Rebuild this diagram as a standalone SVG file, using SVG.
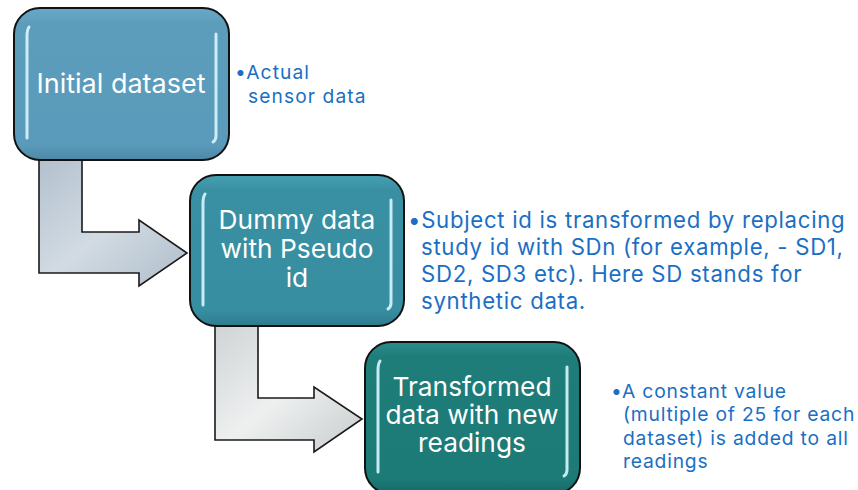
<svg xmlns="http://www.w3.org/2000/svg" width="858" height="490" viewBox="0 0 858 490">
<defs>
<linearGradient id="g1" x1="0" y1="0" x2="0" y2="1"><stop offset="0" stop-color="#6aa8c6"/><stop offset="0.1" stop-color="#5d9dbc"/><stop offset="0.9" stop-color="#5a9aba"/><stop offset="1" stop-color="#4d88a6"/></linearGradient>
<linearGradient id="g2" x1="0" y1="0" x2="0" y2="1"><stop offset="0" stop-color="#46a0b2"/><stop offset="0.1" stop-color="#3990a3"/><stop offset="0.9" stop-color="#378ea1"/><stop offset="1" stop-color="#2c7b8d"/></linearGradient>
<linearGradient id="g3" x1="0" y1="0" x2="0" y2="1"><stop offset="0" stop-color="#2a8d8a"/><stop offset="0.1" stop-color="#1e7c79"/><stop offset="0.9" stop-color="#1c7a77"/><stop offset="1" stop-color="#156966"/></linearGradient>
<linearGradient id="a1" x1="0" y1="0" x2="1" y2="1"><stop offset="0" stop-color="#b2c0cd"/><stop offset="0.5" stop-color="#d2dbe3"/><stop offset="1" stop-color="#aebdca"/></linearGradient>
<linearGradient id="a2" x1="0" y1="0" x2="1" y2="1"><stop offset="0" stop-color="#cfd3d5"/><stop offset="0.5" stop-color="#eef0f0"/><stop offset="1" stop-color="#c8cccd"/></linearGradient>
</defs>
<style>
.box{stroke:#111;stroke-width:2}
.hl{stroke:#d8f6ff;stroke-width:3;stroke-linecap:round;fill:none;opacity:0.9}
.arr{stroke:#1a1a1a;stroke-width:1.6;stroke-linejoin:miter}
.bt{font-family:Inter,"Noto Sans",sans-serif;fill:#ffffff;text-anchor:middle}
.nt{font-family:Inter,"Noto Sans",sans-serif;fill:#1a6fc4}
</style>
<g id="connectors">
<polygon class="arr" fill="url(#a1)" points="39,158 39,273 139,273 139,286 187,253 139,220 139,232 82,232 82,158"/>
<polygon class="arr" fill="url(#a2)" points="215,324 215,440 314,440 314,452 362,419 314,387 314,398 258,398 258,324"/>
</g>
<g id="node1">
<rect class="box" x="14" y="8" width="215" height="152" rx="26" fill="url(#g1)"/>
<path class="hl" d="M29,27 Q27,30 27,36 L27,138"/>
<path class="hl" d="M216,34 L216,136 Q216,140 213,142"/>
<text class="bt" x="121" y="93" font-size="27">Initial dataset</text>
</g>
<g id="note1">
<text class="nt" font-size="19.2" letter-spacing="1.1"><tspan x="235" y="79">•Actual</tspan><tspan x="248" y="102.5">sensor data</tspan></text>
</g>
<g id="node2">
<rect class="box" x="190" y="175" width="214" height="151" rx="26" fill="url(#g2)"/>
<path class="hl" d="M205,194 Q203,197 203,203 L203,305"/>
<path class="hl" d="M391,200 L391,303 Q391,307 388,309"/>
<text class="bt" font-size="26.3"><tspan x="297" y="229">Dummy data</tspan><tspan x="297" y="258">with Pseudo</tspan><tspan x="297" y="287">id</tspan></text>
</g>
<g id="note2">
<text class="nt" font-size="22.2" letter-spacing="0.7"><tspan x="408" y="227.5">•Subject id is transformed by replacing</tspan><tspan x="421" y="254.5">study id with SDn (for example, - SD1,</tspan><tspan x="421" y="281.5">SD2, SD3 etc). Here SD stands for</tspan><tspan x="421" y="308.5">synthetic data.</tspan></text>
</g>
<g id="node3">
<rect class="box" x="365" y="342" width="215" height="152" rx="26" fill="url(#g3)"/>
<path class="hl" d="M380,361 Q378,364 378,370 L378,472"/>
<path class="hl" d="M567,367 L567,470 Q567,474 564,476"/>
<text class="bt" font-size="26.3"><tspan x="472" y="396">Transformed</tspan><tspan x="472" y="424">data with new</tspan><tspan x="472" y="452">readings</tspan></text>
</g>
<g id="note3">
<text class="nt" font-size="19.3" letter-spacing="0.8"><tspan x="611" y="397.5">•A constant value</tspan><tspan x="623" y="421">(multiple of 25 for each</tspan><tspan x="623" y="444.5">dataset) is added to all</tspan><tspan x="623" y="468">readings</tspan></text>
</g>
</svg>
